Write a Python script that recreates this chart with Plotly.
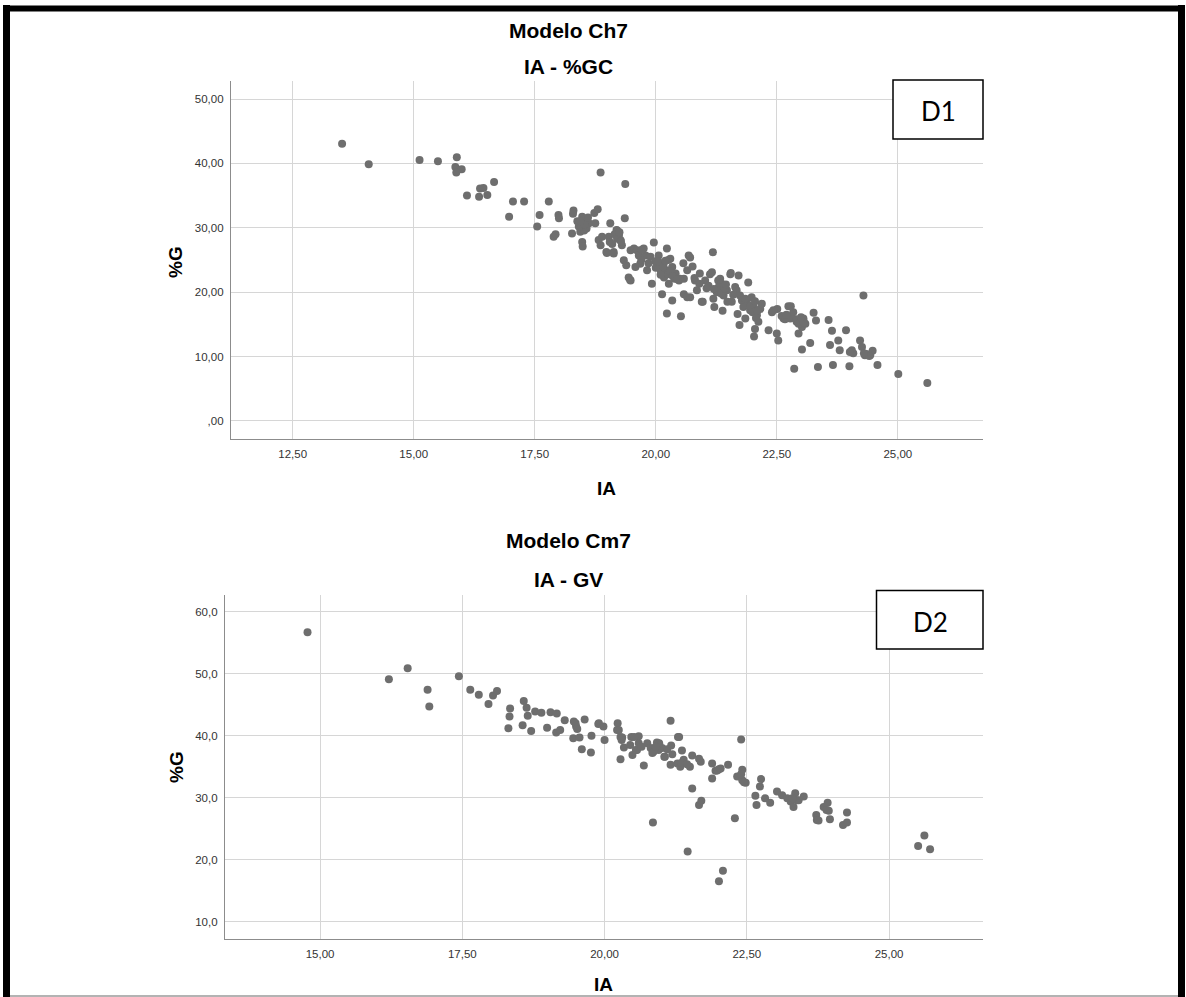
import plotly.graph_objects as go

# ---------------- data: top panel (Modelo Ch7, IA - %GC) ----------------
ia_top = [13.52, 14.07, 15.12, 15.50, 15.89, 15.86, 15.99, 15.88, 16.10, 16.35, 16.37, 16.44, 16.52, 16.66,
          16.97, 17.05, 17.28, 17.55, 17.60, 17.79,
          17.89, 17.93, 17.99, 18.00, 18.27, 18.30, 18.29, 18.48, 18.51, 18.41, 18.44, 18.55, 18.62, 18.48, 18.49,
          18.75, 18.73, 18.80, 18.82, 18.86, 18.89, 18.98, 19.03, 19.06, 19.05, 19.13, 19.20, 19.24, 19.27, 19.30,
          19.36, 19.34, 19.39, 19.44, 19.48, 19.48, 19.55, 19.61, 19.58, 19.65, 19.68, 19.75, 19.79, 19.82, 19.89,
          19.96, 19.92, 20.03, 20.06, 20.10, 20.13, 20.17, 20.23, 20.23, 20.27, 20.30, 20.34, 20.39, 20.41, 20.13,
          20.34, 20.23, 20.52, 20.48, 20.58, 20.65, 20.68, 20.58, 20.65,
          18.86, 19.37, 18.45, 18.52, 18.58, 18.38, 18.50, 18.99, 19.13, 19.19, 19.47, 19.71, 19.99, 20.16, 20.19,
          20.37, 20.50, 20.57, 20.26,
          20.71, 20.76, 20.91, 20.81, 20.85, 20.71, 20.95, 21.02, 21.09, 21.12, 21.16, 21.19, 21.21, 21.26, 21.29,
          21.33, 21.36, 21.38, 21.40, 21.47, 21.48, 21.54, 21.57, 21.64, 21.67, 21.69, 21.71, 21.74, 21.78, 21.81,
          21.85, 21.88, 21.91, 21.95, 21.98, 22.02, 22.05, 22.09, 22.12, 22.16, 22.19, 22.33, 22.40, 22.51, 22.50,
          22.53, 22.64, 22.74, 22.78, 22.84, 22.86, 22.91, 22.98, 23.02, 23.05, 23.09, 22.95, 23.02, 23.19, 23.26,
          23.31, 23.35, 23.57, 23.64, 23.60, 23.66, 23.77, 23.80, 23.93, 24.00, 24.05, 24.08, 24.22, 24.26, 24.29,
          24.32, 24.43, 24.48, 24.58,
          21.18, 22.03, 21.73, 22.60, 22.67, 21.55, 20.97, 22.43, 22.79, 23.05, 24.01, 24.39,
          25.01, 25.61,
          18.52, 18.47, 18.57, 18.53, 18.60, 18.44, 19.15, 19.20, 19.10, 19.25, 19.28,
          19.70, 19.85, 20.00, 20.05, 20.15, 20.20, 20.25, 20.30, 20.35, 20.45, 20.10,
          20.80, 20.90, 21.05, 21.30, 21.35, 21.42, 21.45, 21.20, 21.60,
          21.90, 21.95, 22.00, 22.05, 22.10, 22.07, 21.85,
          22.90, 22.95, 23.05, 23.00, 22.70, 24.35, 24.41, 24.30]
g_top = [43.06, 39.86, 40.53, 40.32, 40.94, 39.44, 39.08, 38.60, 35.00, 34.83, 36.10, 36.20, 35.10, 37.10,
         31.73, 34.10, 34.10, 30.20, 32.00, 34.10,
         28.60, 29.00, 32.00, 31.50, 29.10, 32.70, 32.20, 31.70, 30.90, 30.20, 29.40, 30.40, 30.70, 27.80, 27.10,
         30.70, 32.30, 32.90, 28.10, 27.30, 28.60, 26.25, 28.60, 30.70, 27.80, 26.25, 29.60, 28.90, 28.10, 27.30,
         31.50, 24.95, 24.20, 22.30, 21.80, 26.50, 26.80, 26.50, 23.90, 25.70, 24.40, 26.80, 25.70, 23.40, 25.50,
         27.70, 21.30, 24.20, 25.70, 23.40, 24.40, 22.30, 26.80, 23.40, 21.30, 25.20, 23.90, 22.10, 22.90, 19.70,
         18.70, 16.70, 16.25, 21.80, 22.10, 23.40, 25.70, 19.70, 19.20,
         38.60, 36.80, 30.60, 29.60, 31.20, 31.00, 30.95, 26.10, 26.00, 29.65, 21.90, 26.60, 24.80, 24.30, 23.20,
         22.40, 22.10, 24.50, 25.00,
         25.40, 24.00, 22.90, 21.80, 20.30, 19.20, 18.50, 21.80, 21.00, 22.80, 23.10, 19.00, 17.70, 20.00, 21.80,
         22.10, 21.30, 17.10, 19.50, 20.30, 18.50, 22.80, 18.50, 20.80, 20.30, 16.60, 22.60, 19.50, 18.70, 17.70,
         15.90, 18.50, 21.50, 17.20, 19.20, 17.90, 14.30, 16.40, 15.40, 17.40, 18.20, 14.10, 16.90, 17.40, 13.60,
         12.50, 15.90, 17.80, 15.90, 16.90, 8.10, 15.40, 15.60, 14.60, 15.90, 15.10, 13.60, 11.10, 12.10, 16.80,
         15.60, 8.40, 15.70, 14.00, 11.80, 8.70, 12.50, 11.00, 14.10, 8.50, 11.00, 10.50, 12.50, 11.50, 19.50,
         10.20, 10.20, 10.90, 8.70,
         26.20, 13.10, 14.90, 16.30, 15.80, 23.00, 18.50, 17.20, 17.80, 15.60, 10.70, 10.30,
         7.30, 5.90,
         31.30, 30.20, 29.90, 30.50, 31.60, 31.00, 29.00, 28.30, 27.50, 29.30, 27.90,
         25.00, 24.50, 23.80, 24.80, 23.90, 24.90, 22.80, 23.20, 22.50, 22.00, 22.70,
         22.20, 21.30, 20.60, 20.80, 19.80, 20.60, 21.20, 20.50, 19.60,
         18.00, 17.80, 16.90, 18.60, 17.10, 16.00, 19.00,
         15.80, 15.10, 15.30, 16.10, 16.50, 10.40, 10.10, 10.50]

# ---------------- data: bottom panel (Modelo Cm7, IA - GV) ----------------
ia_bot = [14.78, 16.21, 16.54, 16.89, 16.92, 17.44, 17.64, 17.79, 17.96, 18.04, 18.11, 18.34, 18.33, 18.31,
          18.58, 18.63, 18.65, 18.56, 18.71, 18.78, 18.89, 18.99, 19.05, 19.16, 19.15, 19.22, 19.30, 19.46,
          19.50, 19.45, 19.56, 19.60, 19.65, 19.77, 19.76, 19.89, 19.49, 19.52,
          19.90, 19.98, 20.00, 20.23, 20.25, 20.28, 20.28, 20.34, 20.47, 20.49, 20.57, 20.60, 20.60, 20.69,
          20.75, 20.81, 20.84, 20.85, 20.92, 20.95, 21.01, 21.06, 21.16, 21.16, 21.17, 21.19, 21.29, 21.28,
          21.33, 21.36, 21.39, 21.46, 21.50, 21.54, 21.54, 21.66, 21.69, 21.66, 21.70, 21.89, 21.89, 21.95,
          22.01, 22.01, 22.08, 22.17, 22.29, 22.40, 22.33, 22.42, 22.42, 22.48, 22.65, 22.67, 22.73, 22.75,
          22.82, 22.91, 23.03, 23.12, 23.21, 23.27, 23.32, 23.35, 23.38, 23.50, 23.72, 23.73, 23.85, 23.92,
          23.94, 23.96, 24.19, 24.26, 24.26,
          20.22, 20.31, 20.52, 20.55, 20.86, 20.96, 21.05, 21.31, 21.98, 22.04, 22.45, 23.41, 23.76,
          25.51, 25.62, 25.72,
          20.30, 20.45, 20.65, 20.90, 21.10, 21.35, 21.45, 22.40, 23.30, 23.90]
g_bot = [56.70, 49.10, 50.90, 47.40, 44.70, 49.60, 47.40, 46.60, 45.10, 46.50, 47.20, 44.40, 43.10, 41.20,
         45.60, 44.50, 43.20, 41.70, 40.75, 43.90, 43.70, 41.30, 43.80, 43.60, 40.50, 40.90, 42.50, 42.30,
         41.50, 39.60, 39.70, 37.80, 42.60, 40.00, 37.30, 41.90, 42.00, 41.10,
         42.00, 41.50, 39.30, 42.00, 40.90, 39.80, 36.20, 38.10, 39.80, 36.90, 37.70, 39.90, 38.80, 35.20,
         38.80, 38.00, 37.20, 26.00, 38.90, 37.70, 38.00, 36.60, 42.40, 35.30, 38.40, 37.00, 39.80, 35.50,
         35.00, 37.60, 36.10, 21.30, 35.00, 36.80, 31.50, 36.30, 35.80, 28.80, 29.50, 35.50, 33.10, 34.35,
         34.60, 16.50, 18.20, 35.30, 26.70, 39.40, 33.40, 34.50, 32.80, 32.40, 30.30, 28.80, 31.80, 33.00,
         29.90, 29.20, 31.00, 30.40, 29.90, 29.40, 28.50, 30.70, 29.60, 30.20, 27.20, 26.40, 28.50, 29.20,
         27.90, 26.50, 25.60, 26.00, 27.60,
         40.90, 39.70, 39.80, 37.70, 37.40, 38.80, 36.60, 39.80, 34.40, 34.70, 32.50, 29.60, 26.30,
         22.20, 23.90, 21.70,
         39.30, 38.50, 38.20, 38.20, 37.80, 35.60, 35.40, 33.80, 29.90, 28.00]

top_xticks = [12.5, 15.0, 17.5, 20.0, 22.5, 25.0]
top_xtext = ["12,50", "15,00", "17,50", "20,00", "22,50", "25,00"]
top_yticks = [0, 10, 20, 30, 40, 50]
top_ytext = [",00", "10,00", "20,00", "30,00", "40,00", "50,00"]
bot_xticks = [15.0, 17.5, 20.0, 22.5, 25.0]
bot_xtext = ["15,00", "17,50", "20,00", "22,50", "25,00"]
bot_yticks = [10, 20, 30, 40, 50, 60]
bot_ytext = ["10,0", "20,0", "30,0", "40,0", "50,0", "60,0"]

W, H = 1186, 997
def px(x):
    return x / W
def py(y):
    return 1 - y / H

FONT = "Liberation Sans, Arial, sans-serif"
MARK = "#6e6e6e"
GRID = "#d6d6d6"
AXL = "#8c8c8c"

fig = go.Figure()
fig.add_trace(go.Scatter(x=ia_top, y=g_top, mode="markers", xaxis="x", yaxis="y",
                         marker=dict(size=8, color=MARK, line=dict(width=0)), hoverinfo="skip"))
fig.add_trace(go.Scatter(x=ia_bot, y=g_bot, mode="markers", xaxis="x2", yaxis="y2",
                         marker=dict(size=8, color=MARK, line=dict(width=0)), hoverinfo="skip"))

tickfont = dict(family=FONT, size=11.5, color="#333333")
common = dict(showgrid=True, gridcolor=GRID, gridwidth=1, zeroline=False, showline=True,
              linecolor=AXL, linewidth=1.3, ticks="", tickfont=tickfont, tickmode="array",
              ticklabelstandoff=4)

fig.update_layout(
    width=W, height=H,
    margin=dict(l=0, r=0, t=0, b=0, pad=0),
    paper_bgcolor="white", plot_bgcolor="white",
    showlegend=False,
    xaxis=dict(domain=[px(231), px(983)], range=[11.225, 26.76], anchor="y",
               tickvals=top_xticks, ticktext=top_xtext, **common),
    yaxis=dict(domain=[py(439), py(81)], range=[-2.8, 52.8], anchor="x",
               tickvals=top_yticks, ticktext=top_ytext, **common),
    xaxis2=dict(domain=[px(225), px(983)], range=[13.33, 26.65], anchor="y2",
                tickvals=bot_xticks, ticktext=bot_xtext, **common),
    yaxis2=dict(domain=[py(939), py(595)], range=[7.2, 62.7], anchor="x2",
                tickvals=bot_yticks, ticktext=bot_ytext, **common),
)

def ann(text, x, y, size, bold=True, angle=0, family=FONT):
    fig.add_annotation(text=("<b>%s</b>" % text) if bold else text, x=px(x), y=py(y),
                       xref="paper", yref="paper", showarrow=False, textangle=angle,
                       xanchor="center", yanchor="middle",
                       font=dict(family=family, size=size, color="#000000"))

# titles
ann("Modelo Ch7", 568, 30, 21)
ann("IA - %GC", 568, 66, 21)
ann("Modelo Cm7", 568, 540, 21)
ann("IA - GV", 568, 579, 21)
# axis titles
ann("IA", 606, 488, 19)
ann("%G", 176, 262, 19, angle=-90)
ann("IA", 604, 984, 19)
ann("%G", 176, 767, 19, angle=-90)

# D1 / D2 boxes
fig.add_shape(type="rect", xref="paper", yref="paper", x0=px(893), x1=px(983), y0=py(139), y1=py(80),
              line=dict(color="#000000", width=1.5), fillcolor="white", layer="above")
fig.add_shape(type="rect", xref="paper", yref="paper", x0=px(876.5), x1=px(983), y0=py(649), y1=py(590.5),
              line=dict(color="#000000", width=1.5), fillcolor="white", layer="above")
ann("D1", 938, 111, 26, bold=False, family="Lato, Carlito, sans-serif")
ann("D2", 930, 622, 26, bold=False, family="Lato, Carlito, sans-serif")

# outer frame
fig.add_shape(type="line", xref="paper", yref="paper", x0=px(6.5), x1=px(6.5), y0=py(5), y1=py(997),
              line=dict(color="#000000", width=7), layer="above")
fig.add_shape(type="line", xref="paper", yref="paper", x0=px(1181.5), x1=px(1181.5), y0=py(5), y1=py(997),
              line=dict(color="#000000", width=7), layer="above")
fig.add_shape(type="line", xref="paper", yref="paper", x0=px(3), x1=px(1185), y0=py(8.5), y1=py(8.5),
              line=dict(color="#000000", width=6), layer="above")
fig.add_shape(type="line", xref="paper", yref="paper", x0=px(10), x1=px(1178), y0=py(996), y1=py(996),
              line=dict(color="#9a9a9a", width=1.5), layer="above")

fig.write_html("out.html",
               config={"displayModeBar": False},
               post_script="document.body.style.margin='0';document.body.style.padding='0';"
                           "document.body.style.overflow='hidden';")
